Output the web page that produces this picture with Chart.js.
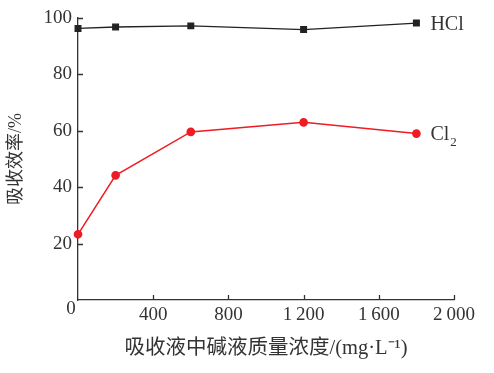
<!DOCTYPE html>
<html>
<head>
<meta charset="utf-8">
<script src="https://cdn.jsdelivr.net/npm/chart.js@4.4.1/dist/chart.umd.min.js"></script>
<style>
  html, body { margin: 0; padding: 0; background: #fff; }
  #wrap { width: 494px; height: 373px; }
</style>
</head>
<body>
<div id="wrap"><canvas id="chart_absorb" width="494" height="373"></canvas></div>
<script>
const concentrations = [0, 200, 600, 1200, 1800];
const hclValues = [96.3, 96.8, 97.2, 95.9, 98.2];
const cl2Values = [23.3, 44.2, 59.6, 63.0, 59.0];
const xTicks = [400, 800, 1200, 1600, 2000];
const xTickLabels = ['400', '800', '1\u2009200', '1\u2009600', '2\u2009000'];
const yTicks = [20, 40, 60, 80, 100];
const seriesNames = ['HCl', 'Cl'];

const serif = "'Liberation Serif', 'DejaVu Serif', serif";
const cjk = "'Liberation Serif', 'Noto Sans CJK SC', serif";
const axisColor = '#333';

const canvasAbsorb = document.getElementById('chart_absorb');

// inward tick marks, the shared "0" and the series names at line ends
const extras = {
  id: 'extras',
  afterDraw(chart) {
    const ctx = chart.ctx;
    const xs = chart.scales.x;
    const ys = chart.scales.y;
    ctx.save();
    ctx.strokeStyle = axisColor;
    ctx.lineWidth = 1.3;
    ctx.beginPath();
    for (let i = 0; i < xTicks.length; i++) {
      const px = Math.round(xs.getPixelForValue(xTicks[i])) + 0.5;
      ctx.moveTo(px, ys.bottom);
      ctx.lineTo(px, ys.bottom - 5);
    }
    for (let i = 0; i < yTicks.length; i++) {
      const py = Math.round(ys.getPixelForValue(yTicks[i])) + 0.5;
      ctx.moveTo(xs.left, py);
      ctx.lineTo(xs.left + 5, py);
    }
    ctx.stroke();

    ctx.fillStyle = axisColor;
    ctx.font = '19px ' + serif;
    ctx.textAlign = 'center';
    ctx.textBaseline = 'middle';
    ctx.fillText('0', xs.left - 7, ys.bottom + 9);

    // series names next to the last point
    const last = concentrations.length - 1;
    const lx = xs.getPixelForValue(concentrations[last]) + 14;
    ctx.textAlign = 'left';
    ctx.font = '20px ' + serif;
    ctx.fillText(seriesNames[0], lx, ys.getPixelForValue(hclValues[last]) + 2);
    const cy = ys.getPixelForValue(cl2Values[last]) + 1;
    ctx.fillText(seriesNames[1], lx, cy);
    const w = ctx.measureText(seriesNames[1]).width;
    ctx.font = '13px ' + serif;
    ctx.fillText('2', lx + w + 1, cy + 8);
    ctx.restore();
  }
};

const chartAbsorb = new Chart(canvasAbsorb, {
  type: 'line',
  data: {
    datasets: [
      {
        label: 'HCl',
        data: concentrations.map((c, i) => ({ x: c, y: hclValues[i] })),
        borderColor: '#222',
        backgroundColor: '#222',
        borderWidth: 1.3,
        pointStyle: 'rect',
        pointRadius: 4,
        pointHoverRadius: 4,
        tension: 0,
        clip: false,
      },
      {
        label: 'Cl2',
        data: concentrations.map((c, i) => ({ x: c, y: cl2Values[i] })),
        borderColor: '#ee1c24',
        backgroundColor: '#ee1c24',
        borderWidth: 1.5,
        pointStyle: 'circle',
        pointRadius: 3.6,
        pointHoverRadius: 3.6,
        tension: 0,
        clip: false,
      }
    ]
  },
  options: {
    responsive: false,
    animation: false,
    events: [],
    layout: { padding: { left: 0, top: 18, right: 40, bottom: 0 } },
    plugins: {
      legend: { display: false },
      tooltip: { enabled: false },
    },
    scales: {
      x: {
        type: 'linear',
        min: 0,
        max: 2000,
        afterFit: (s) => { s.height = 73; },
        afterBuildTicks: (s) => { s.ticks = xTicks.map(v => ({ value: v })); },
        grid: { display: false, drawTicks: false },
        border: { display: true, color: axisColor, width: 1.3 },
        ticks: {
          color: axisColor,
          font: { family: serif, size: 19 },
          padding: 4,
          maxRotation: 0,
          autoSkip: false,
          callback: (v) => xTickLabels[xTicks.indexOf(v)],
        },
        title: {
          display: true,
          text: '吸收液中碱液质量浓度/(mg·L⁻¹)',
          color: axisColor,
          font: { family: cjk, size: 20.5 },
          padding: { top: 2, bottom: 12 },
        },
      },
      y: {
        min: 0,
        max: 100,
        afterFit: (s) => { s.width = 78; },
        afterBuildTicks: (s) => { s.ticks = yTicks.map(v => ({ value: v })); },
        grid: { display: false, drawTicks: false },
        border: { display: true, color: axisColor, width: 1.3 },
        ticks: {
          color: axisColor,
          font: { family: serif, size: 19 },
          padding: 6,
        },
        title: {
          display: true,
          text: '吸收效率/%',
          color: axisColor,
          font: { family: cjk, size: 18 },
          padding: { top: 5, bottom: 0 },
        },
      },
    },
  },
  plugins: [extras],
});
</script>
</body>
</html>
